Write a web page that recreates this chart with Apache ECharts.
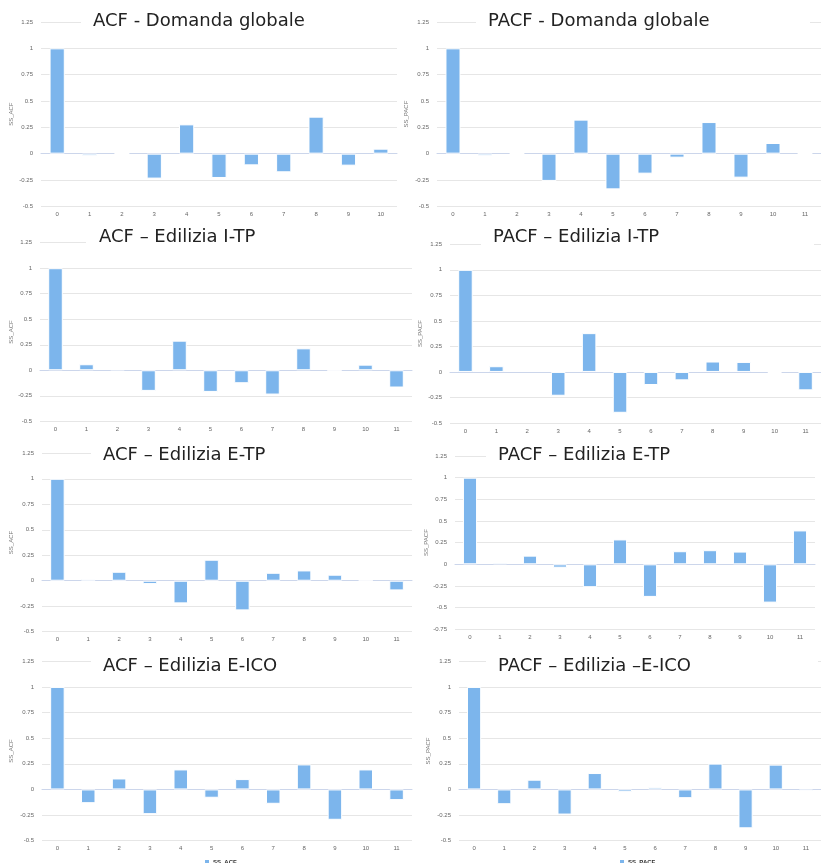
<!DOCTYPE html>
<html>
<head>
<meta charset="utf-8">
<title>ACF / PACF</title>
<script src="https://cdn.jsdelivr.net/npm/echarts@6/dist/echarts.min.js"></script>
<style>
  html, body { margin: 0; padding: 0; background: #fff; }
  #chart { width: 821px; height: 863px; }
</style>
</head>
<body>
<div id="chart"></div>
<script>
// Lag categories
const lags11 = ['0', '1', '2', '3', '4', '5', '6', '7', '8', '9', '10'];
const lags12 = ['0', '1', '2', '3', '4', '5', '6', '7', '8', '9', '10', '11'];

// Autocorrelation (ACF) and partial autocorrelation (PACF) values by lag
const acfDomanda  = [1, -0.02, 0.005, -0.237, 0.278, -0.231, -0.111, -0.177, 0.351, -0.114, 0.047];
const pacfDomanda = [1, -0.02, 0.005, -0.259, 0.323, -0.339, -0.19, -0.038, 0.30, -0.228, 0.101, 0.005];
const acfITP      = [1, 0.059, 0.01, -0.202, 0.29, -0.212, -0.127, -0.238, 0.215, 0.002, 0.055, -0.169];
const pacfITP     = [1, 0.056, 0.01, -0.233, 0.38, -0.4, -0.128, -0.082, 0.102, 0.098, -0.01, -0.18];
const acfETP      = [1, 0.016, 0.088, -0.033, -0.222, 0.206, -0.291, 0.078, 0.101, 0.059, -0.003, -0.095];
const pacfETP     = [1, 0.019, 0.1, -0.039, -0.264, 0.287, -0.376, 0.151, 0.163, 0.147, -0.442, 0.391];
const acfEICO     = [1, -0.134, 0.107, -0.241, 0.195, -0.081, 0.101, -0.14, 0.244, -0.296, 0.195, -0.104];
const pacfEICO    = [1, -0.144, 0.095, -0.245, 0.16, -0.026, 0.02, -0.085, 0.252, -0.379, 0.242, -0.016];

// Panel titles and series names
const titles = [
  'ACF - Domanda globale', 'PACF - Domanda globale',
  'ACF – Edilizia I-TP', 'PACF – Edilizia I-TP',
  'ACF – Edilizia E-TP', 'PACF – Edilizia E-TP',
  'ACF – Edilizia E-ICO', 'PACF – Edilizia –E-ICO'
];
const acfName = 'SS_ACF';
const pacfName = 'SS_PACF';

// Panel content
const panels = [
  { title: titles[0], name: acfName,  cats: lags11, values: acfDomanda,  yMin: -0.5 },
  { title: titles[1], name: pacfName, cats: lags12, values: pacfDomanda, yMin: -0.5 },
  { title: titles[2], name: acfName,  cats: lags12, values: acfITP,      yMin: -0.5 },
  { title: titles[3], name: pacfName, cats: lags12, values: pacfITP,     yMin: -0.5 },
  { title: titles[4], name: acfName,  cats: lags12, values: acfETP,      yMin: -0.5 },
  { title: titles[5], name: pacfName, cats: lags12, values: pacfETP,     yMin: -0.75 },
  { title: titles[6], name: acfName,  cats: lags12, values: acfEICO,     yMin: -0.5 },
  { title: titles[7], name: pacfName, cats: lags12, values: pacfEICO,    yMin: -0.5 }
];

// Layout of each panel: plot box, title box (boxLeft, textLeft, top, boxRight), axis name gap
const layout = [
  { grid: [41, 22, 356, 184.3],    tBox: 81,  tText: 93,  tTop: 8,   tRight: 404, nameGap: 27 },
  { grid: [437, 22, 386, 184.3],   tBox: 476, tText: 488, tTop: 8,   tRight: 810, nameGap: 28 },
  { grid: [40, 242.7, 372, 178.6], tBox: 86,  tText: 99,  tTop: 224, tRight: 412, nameGap: 26 },
  { grid: [450, 244.3, 371, 178.7],tBox: 481, tText: 493, tTop: 224, tRight: 814, nameGap: 27 },
  { grid: [42, 453.3, 370, 178.4], tBox: 91,  tText: 103, tTop: 442, tRight: 412, nameGap: 28 },
  { grid: [455, 456, 360, 173.3],  tBox: 486, tText: 498, tTop: 442, tRight: 821, nameGap: 26 },
  { grid: [42, 661.3, 370, 179.4], tBox: 91,  tText: 103, tTop: 653, tRight: 412, nameGap: 28 },
  { grid: [459, 661.3, 370, 179.4],tBox: 486, tText: 498, tTop: 653, tRight: 818, nameGap: 28 }
];

const barColor = '#7cb5ec';
const labelFont = 'Liberation Sans';
const titleFont = 'DejaVu Sans';
const titleSize = 18;

const option = {
  animation: false,
  backgroundColor: '#fff',
  title: [],
  grid: [],
  xAxis: [],
  yAxis: [],
  series: [],
  legend: [
    {
      data: [acfName], left: 198, top: 853, icon: 'rect', itemWidth: 6, itemHeight: 6, itemGap: 4,
      textStyle: { fontSize: 6, fontWeight: 'bold', color: '#333', fontFamily: labelFont, padding: [0, 0, 0, -2] },
      selectedMode: false
    },
    {
      data: [pacfName], left: 613, top: 853, icon: 'rect', itemWidth: 6, itemHeight: 6, itemGap: 4,
      textStyle: { fontSize: 6, fontWeight: 'bold', color: '#333', fontFamily: labelFont, padding: [0, 0, 0, -2] },
      selectedMode: false
    }
  ]
};

// Used to size each white title box so it ends at its right edge
const ctx = document.createElement('canvas').getContext('2d');
ctx.font = titleSize + 'px "' + titleFont + '"';

panels.forEach((p, i) => {
  const L = layout[i];
  const [gl, gt, gw, gh] = L.grid;
  option.grid.push({ left: gl, top: gt, width: gw, height: gh, containLabel: false });
  option.xAxis.push({
    type: 'category', gridIndex: i, data: p.cats,
    axisLine: { lineStyle: { color: '#ccd6eb', width: 1 } },
    axisTick: { show: false },
    axisLabel: { fontSize: 6, color: '#666', margin: 5, fontFamily: labelFont },
    splitLine: { show: false }
  });
  option.yAxis.push({
    type: 'value', gridIndex: i, min: p.yMin, max: 1.25, interval: 0.25,
    name: p.name, nameLocation: 'middle', nameGap: L.nameGap,
    nameTextStyle: { fontSize: 6, color: '#777', fontFamily: labelFont },
    axisLine: { show: false }, axisTick: { show: false },
    axisLabel: { fontSize: 6, color: '#666', margin: 8, fontFamily: labelFont },
    splitLine: { lineStyle: { color: '#e6e6e6', width: 1 } }
  });
  option.series.push({
    type: 'bar', name: p.name, xAxisIndex: i, yAxisIndex: i,
    data: p.values, barWidth: '47%',
    itemStyle: { color: barColor, borderColor: '#fff', borderWidth: 1 }
  });
  const w = ctx.measureText(p.title).width;
  option.title.push({
    text: p.title, left: L.tBox, top: L.tTop,
    backgroundColor: '#fff',
    padding: [2, Math.max(4, L.tRight - L.tText - w), 2, L.tText - L.tBox],
    textStyle: { fontSize: titleSize, fontWeight: 'normal', color: '#222', fontFamily: titleFont, lineHeight: 22 }
  });
});

const chart = echarts.init(document.getElementById('chart'), null, { renderer: 'canvas' });
chart.setOption(option);
</script>
</body>
</html>
